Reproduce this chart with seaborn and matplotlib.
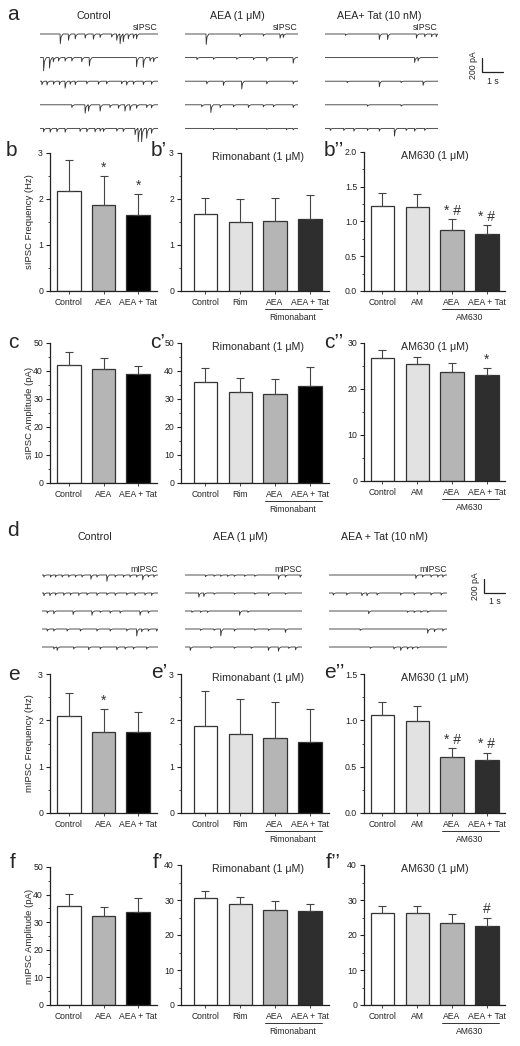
import matplotlib
matplotlib.use("Agg")
import matplotlib.pyplot as plt
import matplotlib.transforms as mtransforms
from matplotlib.ticker import MultipleLocator, FormatStrFormatter
import seaborn as sns

# --- data -------------------------------------------------------------------

cats_a = ["Control", "AEA", "AEA + Tat"]
cats_rim = ["Control", "Rim", "AEA", "AEA + Tat"]
cats_am = ["Control", "AM", "AEA", "AEA + Tat"]

# sIPSC frequency (Hz), mean and upper SEM
b_mean = [2.18, 1.88, 1.65]
b_err = [0.66, 0.62, 0.45]
b1_mean = [1.67, 1.49, 1.52, 1.56]
b1_err = [0.35, 0.51, 0.51, 0.53]
b2_mean = [1.22, 1.21, 0.88, 0.82]
b2_err = [0.19, 0.19, 0.15, 0.13]

# sIPSC amplitude (pA)
c_mean = [42.0, 40.7, 38.8]
c_err = [4.8, 3.8, 3.0]
c1_mean = [36.0, 32.5, 31.9, 34.6]
c1_err = [5.0, 5.0, 5.1, 7.0]
c2_mean = [26.7, 25.4, 23.8, 23.1]
c2_err = [1.7, 1.5, 1.8, 1.5]

# mIPSC frequency (Hz)
e_mean = [2.10, 1.75, 1.75]
e_err = [0.50, 0.50, 0.42]
e1_mean = [1.88, 1.70, 1.62, 1.53]
e1_err = [0.75, 0.77, 0.78, 0.72]
e2_mean = [1.06, 0.99, 0.60, 0.57]
e2_err = [0.14, 0.16, 0.10, 0.08]

# mIPSC amplitude (pA)
f_mean = [36.0, 32.3, 33.8]
f_err = [4.2, 3.3, 4.9]
f1_mean = [30.5, 28.8, 27.2, 26.9]
f1_err = [2.0, 2.0, 2.4, 2.1]
f2_mean = [26.4, 26.4, 23.5, 22.7]
f2_err = [1.8, 1.9, 2.5, 2.3]

# significance marks
b_marks = ["", "*", "*"]
b2_marks = ["", "", "* #", "* #"]
c2_marks = ["", "", "", "*"]
e_marks = ["", "*", ""]
e2_marks = ["", "", "* #", "* #"]
f2_marks = ["", "", "", "#"]

# example traces: events as (time s, amplitude pA), 5 sweeps per condition
sipsc_ctrl = [
    [(0.95, 140), (1.34, 90), (1.66, 70), (2.13, 60), (2.52, 75), (2.84, 50), (3.39, 45),
     (3.63, 90), (3.79, 140), (3.94, 110), (4.18, 70), (4.42, 60), (4.57, 70)],
    [(0.16, 190), (0.44, 150), (0.62, 60), (0.87, 50), (1.18, 50), (1.50, 50), (1.97, 60),
     (2.33, 120), (4.57, 130), (4.89, 140), (5.21, 50), (5.38, 60)],
    [(0.08, 50), (0.32, 55), (0.63, 45), (0.91, 50), (1.18, 100), (1.42, 45), (1.66, 50),
     (2.21, 40), (2.76, 45), (3.15, 40), (3.86, 40), (4.10, 55), (4.42, 45), (4.89, 50), (5.28, 45)],
    [(1.50, 40), (2.13, 120), (2.29, 90), (2.84, 90), (3.31, 40), (3.71, 50), (4.02, 90),
     (4.26, 80), (4.57, 50), (5.05, 40), (5.28, 45)],
    [(0.16, 50), (0.47, 55), (0.79, 50), (1.18, 55), (1.89, 45), (2.21, 50), (2.60, 50),
     (2.84, 40), (3.00, 45), (3.63, 40), (3.94, 45), (4.50, 90), (4.65, 190), (4.81, 190),
     (5.05, 140), (5.28, 70)],
]
sipsc_aea = [
    [(1.04, 150), (2.72, 40), (3.87, 30), (4.70, 60), (4.86, 50)],
    [(0.58, 30), (1.40, 25), (2.55, 25), (3.38, 30), (4.04, 50), (5.35, 80)],
    [(1.07, 40), (1.89, 60), (2.80, 110), (4.04, 40), (5.35, 40)],
    [(0.82, 30), (1.27, 110), (1.73, 40), (2.39, 30), (3.13, 40), (3.87, 30), (4.37, 30), (5.35, 40)],
    [(1.40, 20), (2.55, 20), (4.04, 15), (5.02, 20), (5.35, 20)],
]
sipsc_tat = [
    [(1.00, 20), (2.68, 80), (3.09, 80), (4.52, 60), (4.93, 40), (5.27, 40), (5.50, 40)],
    [(4.43, 70), (4.60, 50)],
    [(1.09, 20), (2.68, 80), (3.76, 20), (4.85, 60)],
    [(2.09, 20), (3.76, 20)],
    [(0.25, 30), (0.92, 30), (1.42, 40), (2.09, 30), (2.68, 40), (3.43, 110), (4.01, 30),
     (4.43, 40), (4.93, 30)],
]
mipsc_ctrl = [
    [(0.08, 30), (0.40, 30), (0.64, 30), (0.96, 30), (1.28, 30), (1.60, 30), (1.92, 30),
     (2.35, 60), (2.64, 30), (3.12, 90), (3.52, 30), (3.92, 30), (4.24, 30), (4.56, 30),
     (4.85, 70), (5.12, 30), (5.39, 30)],
    [(0.08, 40), (0.37, 40), (0.64, 30), (1.04, 35), (1.36, 30), (1.76, 35), (2.16, 30),
     (2.64, 35), (3.12, 30), (3.52, 35), (4.08, 30), (4.48, 35), (4.96, 30), (5.28, 35)],
    [(0.24, 30), (0.56, 40), (1.49, 50), (2.40, 60), (2.80, 20), (3.28, 30), (3.76, 30),
     (4.72, 60), (5.12, 30)],
    [(0.24, 30), (0.56, 30), (1.20, 30), (1.84, 30), (2.64, 30), (3.28, 30), (4.08, 30),
     (4.56, 100), (4.80, 40), (5.12, 30), (5.52, 30)],
    [(0.56, 30), (0.72, 50), (1.52, 30), (2.24, 40), (2.80, 30), (3.60, 40), (4.00, 30),
     (4.40, 30), (5.04, 30)],
]
mipsc_aea = [
    [(0.97, 25), (1.38, 20), (1.70, 20), (2.03, 20), (2.35, 20), (2.84, 20), (3.33, 20),
     (4.46, 60), (4.79, 30), (5.50, 30)],
    [(0.65, 60), (0.89, 50), (1.38, 20), (2.35, 20), (3.33, 20), (3.98, 40), (4.79, 20)],
    [(0.32, 20), (0.73, 20), (1.06, 20), (2.60, 60), (3.00, 20)],
    [(0.73, 20), (1.38, 20), (1.70, 100), (2.35, 30), (3.33, 20), (3.98, 20), (4.79, 50)],
    [(0.24, 50), (1.22, 20), (2.35, 20), (3.16, 20), (3.98, 50), (4.46, 60), (4.95, 20), (5.28, 40)],
]
mipsc_tat = [
    [(4.11, 50), (4.43, 30), (4.83, 30), (5.15, 30), (5.39, 30)],
    [(0.19, 30), (0.83, 30), (1.55, 40), (1.79, 40), (2.27, 30), (3.39, 30), (4.03, 30),
     (4.83, 30), (5.31, 30)],
    [(1.87, 40), (3.71, 20), (4.03, 20), (4.35, 20), (4.67, 20)],
    [(1.47, 20), (4.67, 60), (4.99, 40), (5.39, 30)],
    [(1.95, 20), (3.07, 30), (3.39, 50), (3.71, 30), (3.95, 30), (4.19, 20)],
]

# --- style ------------------------------------------------------------------

sns.set_theme(style="ticks")
plt.rcParams["font.family"] = ["Liberation Sans", "DejaVu Sans"]
plt.rcParams["axes.linewidth"] = 0.9
plt.rcParams["axes.edgecolor"] = "#222222"

W, H = 520, 1046
fig = plt.figure(figsize=(W / 100, H / 100), dpi=100)

WHITE, LIGHT, MID, BLACK, DARK = "white", "#e2e2e2", "#b5b5b5", "black", "#2e2e2e"

SEC = 5.6            # sweep length
S_PER_PX = 5.6 / 118
PA_PER_PX = 200 / 14
ROW_PX = 23.6


def add_ax(x0, y0, x1, y1):
    return fig.add_axes([x0 / W, 1 - y1 / H, (x1 - x0) / W, (y1 - y0) / H])


def trace_xy(events):
    xs, ys = [0.0], [0.0]
    for i, (t, a) in enumerate(events):
        nxt = events[i + 1][0] if i + 1 < len(events) else SEC
        end = min(t + 0.14, nxt - 0.005)
        xs += [t, t + 0.012, t + 0.05, end]
        ys += [0.0, -a, -0.3 * a, 0.0]
    xs.append(SEC)
    ys.append(0.0)
    return xs, ys


def trace_panel(x0, x1, y_first, sweeps, tag):
    n = len(sweeps)
    top, bottom = y_first - 14, y_first + (n - 1) * ROW_PX + 14
    ax = add_ax(x0, top, x1, bottom)
    for k, ev in enumerate(sweeps):
        xs, ys = trace_xy(ev)
        base = -k * ROW_PX * PA_PER_PX
        ax.plot(xs, [y + base for y in ys], color="#333333", lw=0.6)
    ax.set_xlim(0, SEC)
    ax.set_ylim(-(bottom - y_first) * PA_PER_PX, (y_first - top) * PA_PER_PX)
    ax.axis("off")
    ax.text(SEC, 6 * PA_PER_PX, tag, ha="right", va="center", fontsize=6.3)
    return ax


def scale_bar(xc, yc):
    ax = add_ax(xc - 14, yc - 26, xc + 28, yc + 14)
    ax.plot([0, 0, 1], [200, 0, 0], color="#222222", lw=0.9, solid_joinstyle="miter")
    ax.set_xlim(-14 * S_PER_PX, 28 * S_PER_PX)
    ax.set_ylim(-14 * PA_PER_PX, 26 * PA_PER_PX)
    ax.text(-8 * S_PER_PX, 100, "200 pA", rotation=90, ha="center", va="center", fontsize=6.3)
    ax.text(0.5, -9 * PA_PER_PX, "1 s", ha="center", va="center", fontsize=6.3)
    ax.axis("off")


def bar_panel(x0, y0, x1, y1, xlim, cats, mean, err, colors, ylim, major, minor, fmt,
              marks=None, title=None, group=None, ylabel=None):
    ax = add_ax(x0, y0, x1, y1)
    sns.barplot(x=cats, y=mean, hue=cats, palette=colors, legend=False, ax=ax,
                width=0.67, edgecolor="#333333", linewidth=0.9, saturation=1,
                order=cats, hue_order=cats)
    ax.errorbar(range(len(cats)), mean, yerr=[[0] * len(cats), err], fmt="none",
                ecolor="#444444", elinewidth=0.8, capsize=3.2, capthick=0.8, zorder=1)
    ax.set_xlim(*xlim)
    ax.set_ylim(*ylim)
    ax.yaxis.set_major_locator(MultipleLocator(major))
    ax.yaxis.set_minor_locator(MultipleLocator(minor))
    ax.yaxis.set_major_formatter(FormatStrFormatter(fmt))
    ax.tick_params(axis="y", which="major", direction="out", length=3, width=0.8,
                   labelsize=6.3, pad=2, colors="#222222")
    ax.tick_params(axis="y", which="minor", direction="out", length=1.8, width=0.6)
    ax.tick_params(axis="x", direction="out", length=2, width=0.6, labelsize=6.2, pad=3)
    ax.set_xlabel("")
    sns.despine(ax=ax)
    tr = mtransforms.blended_transform_factory(ax.transData, ax.transAxes)
    hpx = y1 - y0
    if marks:
        for i, m in enumerate(marks):
            if m:
                ax.annotate(m, (i, mean[i] + err[i]), xytext=(0, 1), textcoords="offset points",
                            ha="center", va="bottom", fontsize=10, color="#333333")
    if title:
        ax.text(1.5, 1 - 4 / hpx, title, transform=tr, ha="center", va="center", fontsize=7.7)
    if group:
        ax.plot([1.7, 3.35], [-18 / hpx, -18 / hpx], transform=tr, color="#333333",
                lw=0.7, clip_on=False)
        ax.text(2.5, -27 / hpx, group, transform=tr, ha="center", va="center", fontsize=6.2)
    if ylabel:
        ax.set_ylabel(ylabel, fontsize=6.8)
        ax.yaxis.set_label_coords(-16 / (x1 - x0), 0.5)
    return ax


def letter(x, y, s):
    fig.text(x / W, 1 - y / H, s, ha="left", va="center", fontsize=15)


# --- row a: sIPSC traces --------------------------------------------------
letter(7, 14, "a")
for cx, name in [(94, "Control"), (237, "AEA (1 μM)"), (379, "AEA+ Tat (10 nM)")]:
    fig.text(cx / W, 1 - 16 / H, name, ha="center", va="center", fontsize=7.7)
trace_panel(40, 158, 34, sipsc_ctrl, "sIPSC")
trace_panel(185, 298, 34, sipsc_aea, "sIPSC")
trace_panel(325, 438, 34, sipsc_tat, "sIPSC")
scale_bar(482, 72)

# --- rows b, c: sIPSC summary ---------------------------------------------
col1, col2, col3 = (50, 157), (181, 329), (364, 505)
xl1, xl2, xl3 = (-0.55, 2.55), (-0.7, 3.55), (-0.53, 3.52)

letter(6, 150, "b")
letter(151, 150, "b’")
letter(324, 150, "b’’")
bar_panel(col1[0], 153, col1[1], 291, xl1, cats_a, b_mean, b_err, [WHITE, MID, BLACK],
          (0, 3), 1, 0.5, "%d", marks=b_marks, ylabel="sIPSC Frequency (Hz)")
bar_panel(col2[0], 153, col2[1], 291, xl2, cats_rim, b1_mean, b1_err, [WHITE, LIGHT, MID, DARK],
          (0, 3), 1, 0.5, "%d", title="Rimonabant (1 μM)", group="Rimonabant")
bar_panel(col3[0], 152, col3[1], 291, xl3, cats_am, b2_mean, b2_err, [WHITE, LIGHT, MID, DARK],
          (0, 2), 0.5, 0.25, "%.1f", marks=b2_marks, title="AM630 (1 μM)", group="AM630")

letter(8, 342, "c")
letter(150, 342, "c’")
letter(324, 342, "c’’")
bar_panel(col1[0], 343, col1[1], 483, xl1, cats_a, c_mean, c_err, [WHITE, MID, BLACK],
          (0, 50), 10, 5, "%d", ylabel="sIPSC Amplitude (pA)")
bar_panel(col2[0], 343, col2[1], 483, xl2, cats_rim, c1_mean, c1_err, [WHITE, LIGHT, MID, BLACK],
          (0, 50), 10, 5, "%d", title="Rimonabant (1 μM)", group="Rimonabant")
bar_panel(col3[0], 343, col3[1], 481, xl3, cats_am, c2_mean, c2_err, [WHITE, LIGHT, MID, DARK],
          (0, 30), 10, 5, "%d", marks=c2_marks, title="AM630 (1 μM)", group="AM630")

# --- row d: mIPSC traces --------------------------------------------------
letter(7, 531, "d")
for cx, name in [(95, "Control"), (240, "AEA (1 μM)"), (384, "AEA + Tat (10 nM)")]:
    fig.text(cx / W, 1 - 537 / H, name, ha="center", va="center", fontsize=7.7)
ROW_PX = 18
trace_panel(42, 158, 575, mipsc_ctrl, "mIPSC")
trace_panel(185, 302, 575, mipsc_aea, "mIPSC")
trace_panel(329, 447, 575, mipsc_tat, "mIPSC")
scale_bar(484, 593)

# --- rows e, f: mIPSC summary ---------------------------------------------
letter(8, 675, "e")
letter(151, 672, "e’")
letter(324, 672, "e’’")
bar_panel(col1[0], 674, col1[1], 813, xl1, cats_a, e_mean, e_err, [WHITE, MID, BLACK],
          (0, 3), 1, 0.5, "%d", marks=e_marks, ylabel="mIPSC Frequency (Hz)")
bar_panel(col2[0], 674, col2[1], 813, xl2, cats_rim, e1_mean, e1_err, [WHITE, LIGHT, MID, BLACK],
          (0, 3), 1, 0.5, "%d", title="Rimonabant (1 μM)", group="Rimonabant")
bar_panel(col3[0], 674, col3[1], 813, xl3, cats_am, e2_mean, e2_err, [WHITE, LIGHT, MID, DARK],
          (0, 1.5), 0.5, 0.25, "%.1f", marks=e2_marks, title="AM630 (1 μM)", group="AM630")

letter(10, 863, "f")
letter(153, 862, "f’")
letter(326, 862, "f’’")
bar_panel(col1[0], 867, col1[1], 1005, xl1, cats_a, f_mean, f_err, [WHITE, MID, BLACK],
          (0, 50), 10, 5, "%d", ylabel="mIPSC Amplitude (pA)")
bar_panel(col2[0], 865, col2[1], 1005, xl2, cats_rim, f1_mean, f1_err, [WHITE, LIGHT, MID, DARK],
          (0, 40), 10, 5, "%d", title="Rimonabant (1 μM)", group="Rimonabant")
bar_panel(col3[0], 865, col3[1], 1005, xl3, cats_am, f2_mean, f2_err, [WHITE, LIGHT, MID, DARK],
          (0, 40), 10, 5, "%d", marks=f2_marks, title="AM630 (1 μM)", group="AM630")

fig.savefig("out.png", dpi=100, facecolor="white")
